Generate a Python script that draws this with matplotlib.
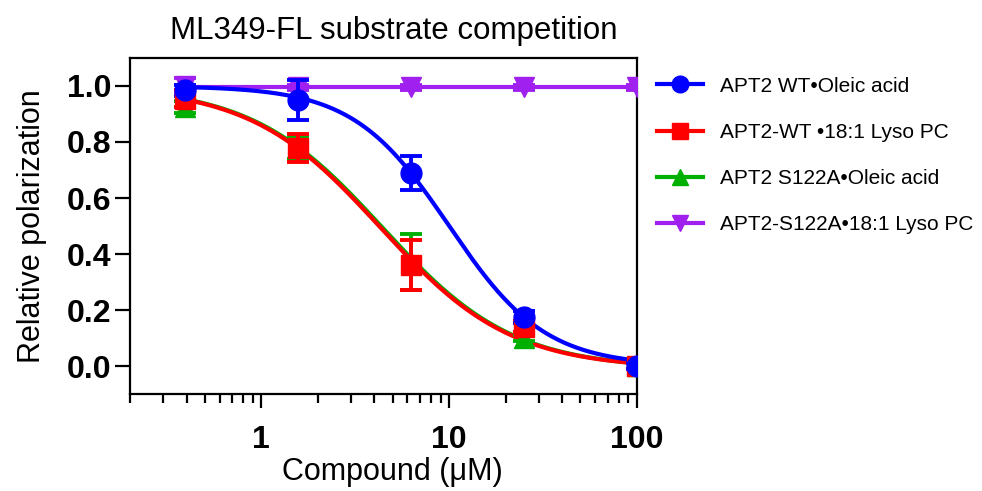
import numpy as np
import matplotlib
matplotlib.use("Agg")
import matplotlib.pyplot as plt
from matplotlib.ticker import LogLocator, NullFormatter, FixedLocator

plt.rcParams['font.family'] = ['Liberation Sans', 'DejaVu Sans']

# concentrations (uM)
conc = [0.39, 1.56, 6.25, 25, 100]

labels = ["APT2 WT•Oleic acid", "APT2-WT •18:1 Lyso PC",
          "APT2 S122A•Oleic acid", "APT2-S122A•18:1 Lyso PC"]
colors = ["#0000ff", "#ff0000", "#00b000", "#a020f0"]
markers = ["o", "s", "^", "v"]

wt_oleic = [0.985, 0.95, 0.69, 0.175, 0.0]
wt_oleic_err = [0.02, 0.07, 0.06, 0.02, 0.01]
wt_lyso = [0.955, 0.78, 0.36, 0.14, 0.0]
wt_lyso_err = [0.03, 0.05, 0.09, 0.02, 0.01]
s122a_oleic = [0.925, 0.78, 0.37, 0.10, 0.0]
s122a_oleic_err = [0.02, 0.04, 0.10, 0.01, 0.01]
s122a_lyso = [1.0, 0.995, 0.995, 0.995, 0.995]
s122a_lyso_err = [0.03, 0.01, 0.01, 0.01, 0.01]

# fitted curve parameters (IC50 in uM, Hill slope, bottom); None = flat line
ic50 = [10.0, 4.3, 4.4, None]
hill = [1.7, 1.25, 1.25, None]
bottom = [0.0, -0.01, -0.01, None]

values = [wt_oleic, wt_lyso, s122a_oleic, s122a_lyso]
errors = [wt_oleic_err, wt_lyso_err, s122a_oleic_err, s122a_lyso_err]

fig = plt.figure(figsize=(9.82, 4.91), dpi=100)
ax = fig.add_axes([0.1324, 0.1975, 0.5163, 0.6844])

xs = np.logspace(np.log10(conc[0]), np.log10(conc[-1]), 300)
order = [3, 2, 1, 0]
handles = {}
for i in order:
    if ic50[i] is None:
        ys = np.full_like(xs, np.mean(values[i][1:]))
    else:
        ys = bottom[i] + (1.0 - bottom[i]) / (1.0 + (xs / ic50[i]) ** hill[i])
    ax.plot(xs, ys, color=colors[i], lw=3.0, zorder=2 + (3 - i) * 0.1)
    ax.errorbar(conc, values[i], yerr=errors[i], fmt=markers[i], color=colors[i],
                ms=15 if markers[i] != "s" else 14, elinewidth=2.8, capsize=8, capthick=2.8,
                zorder=3 + (3 - i) * 0.1)
    h, = ax.plot([], [], color=colors[i], marker=markers[i], lw=3.0, ms=12)
    handles[i] = h

ax.set_xscale("log")
ax.set_xlim(0.2, 100)
ax.set_ylim(-0.1, 1.1)
ax.set_yticks([0.0, 0.2, 0.4, 0.6, 0.8, 1.0])
ax.set_yticklabels(["0.0", "0.2", "0.4", "0.6", "0.8", "1.0"])
ax.xaxis.set_major_locator(FixedLocator([1, 10, 100]))
ax.set_xticklabels(["1", "10", "100"])
ax.xaxis.set_minor_locator(LogLocator(base=10, subs=np.arange(2, 10)))
ax.xaxis.set_minor_formatter(NullFormatter())

for sp in ax.spines.values():
    sp.set_linewidth(1.6)
ax.tick_params(axis="y", which="major", length=11, width=1.6, labelsize=23, pad=2.5)
ax.tick_params(axis="x", which="major", length=10, width=1.6, labelsize=23, pad=12)
ax.tick_params(axis="x", which="minor", length=6.5, width=1.6)
for lab in ax.get_xticklabels() + ax.get_yticklabels():
    lab.set_fontweight("bold")

ax.set_title("ML349-FL substrate competition", fontsize=22.5, pad=14, x=0.52)
ax.set_ylabel("Relative polarization", fontsize=22, labelpad=14)
ax.set_xlabel("Compound (μM)", fontsize=22, labelpad=2)
ax.xaxis.label.set_x(0.518)

ax.legend([handles[i] for i in range(4)], labels, loc="upper left",
          bbox_to_anchor=(1.003, 1.0), frameon=False, fontsize=15,
          handlelength=2.2, labelspacing=1.3, handletextpad=0.8)

fig.savefig("out.png", dpi=100)
